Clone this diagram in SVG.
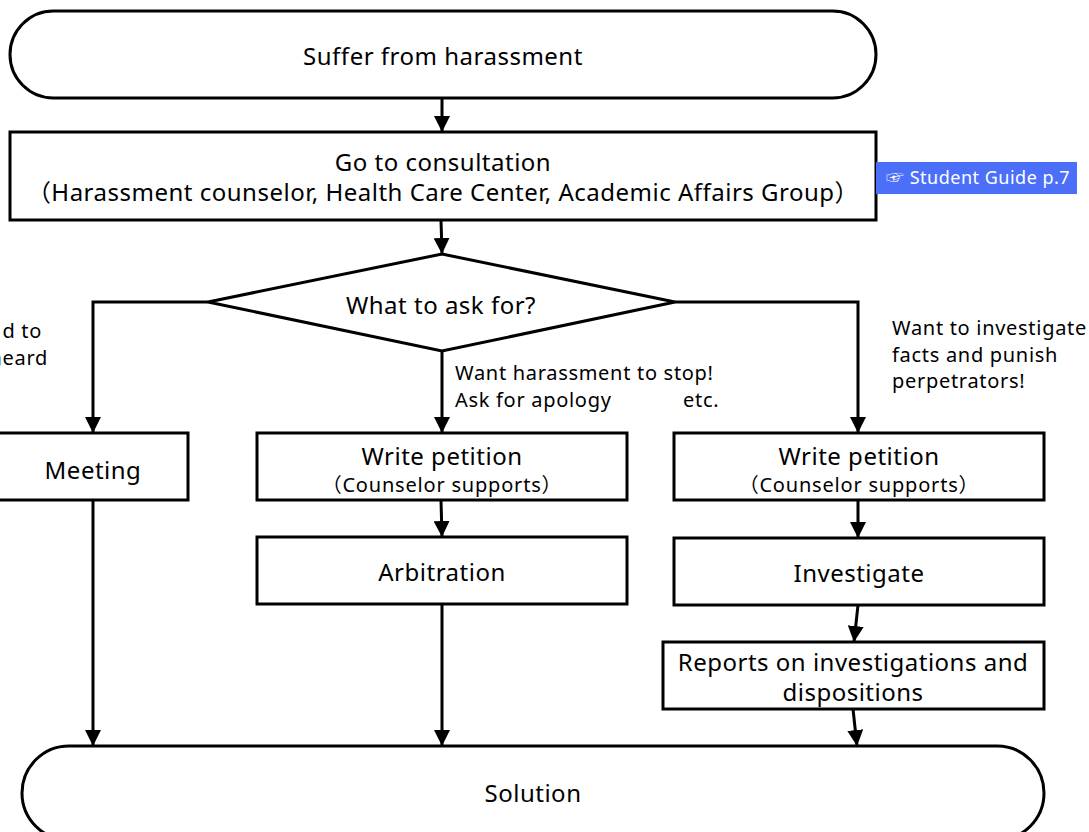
<svg xmlns="http://www.w3.org/2000/svg" width="1089" height="832" viewBox="0 0 1089 832">
  <defs>
    <marker id="arrow" viewBox="0 0 16 16" refX="16" refY="8" markerWidth="16" markerHeight="16" markerUnits="userSpaceOnUse" orient="auto">
      <path d="M0,0 L16,8 L0,16 Z" fill="#000"/>
    </marker>
    <style>
      .shape { fill: #fff; stroke: #000; stroke-width: 3; }
      .edge { fill: none; stroke: #000; stroke-width: 3; marker-end: url(#arrow); }
      text { font-family: "Noto Sans", "Noto Sans CJK JP", sans-serif; fill: #000; }
      .lg { font-size: 24px; letter-spacing: 0.5px; text-anchor: middle; }
      .sm { font-size: 20px; letter-spacing: 0.8px; text-anchor: middle; }
      .note { font-size: 20px; letter-spacing: 0.7px; }
      .badge { fill: #4b6ff8; }
      .badgeText { font-size: 18px; letter-spacing: 0.5px; fill: #fff; }
    </style>
  </defs>
  <rect width="1089" height="832" fill="#fff"/>

  <!-- connectors -->
  <g id="connectors">
    <path class="edge" d="M442,98 L442,132"/>
    <path class="edge" d="M441,220 L442,254"/>
    <path class="edge" d="M208,302 L93,302 L93,433"/>
    <path class="edge" d="M442,351 L442,433"/>
    <path class="edge" d="M675,302 L858,302 L858,433"/>
    <path class="edge" d="M93,500 L93,746"/>
    <path class="edge" d="M441,500 L442,537"/>
    <path class="edge" d="M442,604 L442,746"/>
    <path class="edge" d="M858,500 L858,538"/>
    <path class="edge" d="M858,605 L854,642"/>
    <path class="edge" d="M853,709 L857,746"/>
  </g>

  <!-- branch notes -->
  <g id="note-left">
    <text class="note" x="42" y="338" text-anchor="end">d to</text>
    <text class="note" x="48" y="365" text-anchor="end">heard</text>
  </g>
  <g id="note-middle">
    <text class="note" x="455" y="380">Want harassment to stop!</text>
    <text class="note" x="455" y="407">Ask for apology</text>
    <text class="note" x="683" y="407">etc.</text>
  </g>
  <g id="note-right">
    <text class="note" x="892" y="335">Want to investigate</text>
    <text class="note" x="892" y="362">facts and punish</text>
    <text class="note" x="892" y="388">perpetrators!</text>
  </g>

  <g id="start">
    <rect class="shape" x="10" y="11" width="866" height="87" rx="43.5"/>
    <text class="lg" x="443" y="65">Suffer from harassment</text>
  </g>

  <g id="consultation">
    <rect class="shape" x="10" y="132" width="866" height="88"/>
    <text class="lg" x="443" y="171">Go to consultation</text>
    <text class="lg" x="443" y="201">（Harassment counselor, Health Care Center, Academic Affairs Group）</text>
  </g>

  <g id="guide">
    <rect class="badge" x="876" y="162" width="201" height="32"/>
    <text class="badgeText" x="886" y="184">☞ Student Guide p.7</text>
  </g>

  <g id="decision">
    <polygon class="shape" points="208,302 442,254 675,302 442,351"/>
    <text class="lg" x="441" y="314">What to ask for?</text>
  </g>

  <g id="meeting">
    <rect class="shape" x="-5" y="433" width="193" height="67"/>
    <text class="lg" x="93" y="479">Meeting</text>
  </g>

  <g id="petition-mid">
    <rect class="shape" x="257" y="433" width="370" height="67"/>
    <text class="lg" x="442" y="465">Write petition</text>
    <text class="sm" x="442" y="492">（Counselor supports）</text>
  </g>

  <g id="arbitration">
    <rect class="shape" x="257" y="537" width="370" height="67"/>
    <text class="lg" x="442" y="581">Arbitration</text>
  </g>

  <g id="petition-right">
    <rect class="shape" x="674" y="433" width="370" height="67"/>
    <text class="lg" x="859" y="465">Write petition</text>
    <text class="sm" x="859" y="492">（Counselor supports）</text>
  </g>

  <g id="investigate">
    <rect class="shape" x="674" y="538" width="370" height="67"/>
    <text class="lg" x="859" y="582">Investigate</text>
  </g>

  <g id="reports">
    <rect class="shape" x="663" y="642" width="381" height="67"/>
    <text class="lg" x="853" y="671">Reports on investigations and</text>
    <text class="lg" x="853" y="701">dispositions</text>
  </g>

  <g id="solution">
    <rect class="shape" x="22" y="746" width="1022" height="94" rx="47"/>
    <text class="lg" x="533" y="802">Solution</text>
  </g>
</svg>
